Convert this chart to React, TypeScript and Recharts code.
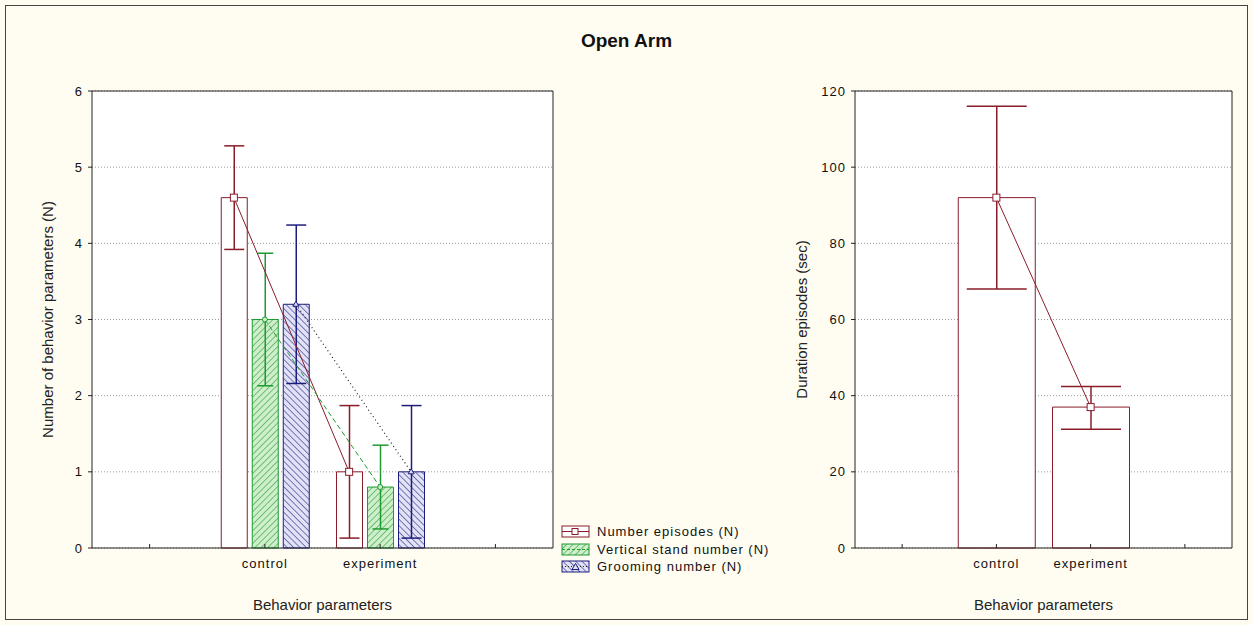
import { ComposedChart, Bar, Line, XAxis, YAxis, CartesianGrid, ErrorBar, Legend } from 'recharts';

const categories = ['', 'control', 'experiment', ' '];

const numberEpisodes = [null, 4.6, 1.0, null];
const numberEpisodesErr = [null, 0.68, 0.87, null];
const verticalStand = [null, 3.0, 0.8, null];
const verticalStandErr = [null, 0.87, 0.55, null];
const grooming = [null, 3.2, 1.0, null];
const groomingErr = [null, 1.04, 0.87, null];

const duration = [null, 92, 37, null];
const durationErr = [null, [24, 24], [5.8, 5.4], null];

const leftTicks = [0, 1, 2, 3, 4, 5, 6];
const rightTicks = [0, 20, 40, 60, 80, 100, 120];

const RED = '#8a1c2a';
const GREEN = '#1f9a2f';
const GREEN_BG = '#cfeecb';
const BLUE = '#1c1c7c';
const BLUE_BG = '#e2e2f6';
const CREAM = '#fffdf1';
const FONT = '"Liberation Sans", Arial, sans-serif';

const leftData = categories.map((name, i) => ({
  name,
  episodes: numberEpisodes[i],
  episodesErr: numberEpisodesErr[i],
  stand: verticalStand[i],
  standErr: verticalStandErr[i],
  grooming: grooming[i],
  groomingErr: groomingErr[i],
}));

const rightData = categories.map((name, i) => ({
  name,
  duration: duration[i],
  durationErr: durationErr[i],
}));

const tickStyle = { fontSize: 13, fill: '#111', letterSpacing: 1, fontFamily: FONT };
const titleStyle = { fontSize: 15, fill: '#222', fontFamily: FONT };

const squareDot = (color: string) => (p: any) => {
  if (p.value == null || p.cy == null) return <g key={`s${p.index}`} />;
  return (
    <rect key={`s${p.index}`} x={p.cx - 3.5} y={p.cy - 3.5} width={7} height={7} fill="#fff" stroke={color} />
  );
};

const circleDot = (color: string) => (p: any) => {
  if (p.value == null || p.cy == null) return <g key={`c${p.index}`} />;
  return <circle key={`c${p.index}`} cx={p.cx} cy={p.cy} r={2.5} fill={GREEN_BG} stroke={color} />;
};

const triangleDot = (color: string) => (p: any) => {
  if (p.value == null || p.cy == null) return <g key={`t${p.index}`} />;
  const { cx, cy } = p;
  return (
    <path key={`t${p.index}`} d={`M${cx - 3},${cy + 2} L${cx},${cy - 3} L${cx + 3},${cy + 2} Z`} fill={BLUE_BG} stroke={color} />
  );
};

const legendItems = [
  { label: 'Number episodes (N)', fill: '#fff', stroke: RED, marker: 'square', dash: undefined },
  { label: 'Vertical stand number (N)', fill: 'url(#hatchGreen)', stroke: GREEN, marker: 'circle', dash: '3 2' },
  { label: 'Grooming number (N)', fill: 'url(#hatchBlue)', stroke: BLUE, marker: 'triangle', dash: '1 2' },
];

function LegendBox() {
  return (
    <div style={{ fontFamily: FONT, fontSize: 13, letterSpacing: 1, color: '#111' }}>
      {legendItems.map((it) => (
        <div key={it.label} style={{ display: 'flex', alignItems: 'center', height: 17.5 }}>
          <svg width={30} height={13} style={{ marginRight: 6 }}>
            <rect x={1} y={1} width={27} height={11} fill={it.fill} stroke={it.stroke} />
            <line x1={1} x2={28} y1={6.5} y2={6.5} stroke={it.marker === 'triangle' ? '#222' : it.stroke} strokeDasharray={it.dash} />
            {it.marker === 'square' && <rect x={11} y={3.5} width={6} height={6} fill="#fff" stroke={it.stroke} />}
            {it.marker === 'triangle' && <path d="M11,9.5 L14.5,3.5 L18,9.5 Z" fill={BLUE_BG} stroke={it.stroke} />}
          </svg>
          <span>{it.label}</span>
        </div>
      ))}
    </div>
  );
}

export default function App() {
  return (
    <div style={{ position: 'fixed', left: 0, top: 0, width: 1253, height: 625, background: CREAM, overflow: 'hidden', fontFamily: FONT }}>
      <svg width={0} height={0} style={{ position: 'absolute' }}>
        <defs>
          <pattern id="hatchGreen" width={4.5} height={4.5} patternUnits="userSpaceOnUse" patternTransform="rotate(45)">
            <rect width={4.5} height={4.5} fill={GREEN_BG} />
            <line x1={0} y1={0} x2={0} y2={4.5} stroke={GREEN} strokeWidth={1.1} />
          </pattern>
          <pattern id="hatchBlue" width={4.5} height={4.5} patternUnits="userSpaceOnUse" patternTransform="rotate(-45)">
            <rect width={4.5} height={4.5} fill={BLUE_BG} />
            <line x1={0} y1={0} x2={0} y2={4.5} stroke={BLUE} strokeWidth={1.1} />
          </pattern>
        </defs>
      </svg>

      <div style={{ position: 'absolute', left: 5, top: 5, width: 1243, height: 615, border: '1px solid #444', boxSizing: 'border-box' }} />

      <div style={{ position: 'absolute', left: 0, width: 1253, top: 30, textAlign: 'center', fontSize: 19, fontWeight: 'bold', color: '#111' }}>
        Open Arm
      </div>

      <div style={{ position: 'absolute', left: 0, top: 0 }}>
        <ComposedChart width={600} height={625} data={leftData} margin={{ top: 90, right: 46, bottom: 15, left: 22 }} barSize={26} barGap={5}>
          <CartesianGrid vertical={false} fill="#fff" stroke="#9a9a9a" strokeDasharray="1 2" />
          <XAxis
            dataKey="name"
            height={62}
            interval={0}
            tickSize={-4}
            tickMargin={15}
            tick={tickStyle}
            axisLine={{ stroke: '#222' }}
            tickLine={{ stroke: '#222' }}
            label={{ value: 'Behavior parameters', position: 'insideBottom', offset: 0, style: titleStyle }}
          />
          <XAxis xAxisId="top" dataKey="name" orientation="top" height={1} interval={0} tick={false} tickSize={-4} axisLine={{ stroke: '#222' }} tickLine={{ stroke: '#222' }} />
          <XAxis xAxisId="redLine" dataKey="name" hide padding={{ left: -31, right: 31 }} />
          <XAxis xAxisId="blueLine" dataKey="name" hide padding={{ left: 31, right: -31 }} />
          <YAxis
            width={70}
            domain={[0, 6]}
            ticks={leftTicks}
            tickSize={4}
            tickMargin={5}
            tick={tickStyle}
            axisLine={{ stroke: '#222' }}
            tickLine={{ stroke: '#222' }}
            label={{ value: 'Number of behavior parameters (N)', angle: -90, position: 'insideLeft', offset: 26, style: { ...titleStyle, textAnchor: 'middle' } }}
          />
          <YAxis yAxisId="right" orientation="right" width={1} domain={[0, 6]} ticks={leftTicks} tick={false} tickSize={-4} axisLine={{ stroke: '#222' }} tickLine={{ stroke: '#222' }} />
          <Bar dataKey="episodes" fill="#fff" stroke={RED} isAnimationActive={false}>
            <ErrorBar dataKey="episodesErr" width={10} stroke={RED} direction="y" />
          </Bar>
          <Bar dataKey="stand" fill="url(#hatchGreen)" stroke={GREEN} isAnimationActive={false}>
            <ErrorBar dataKey="standErr" width={8} stroke={GREEN} direction="y" />
          </Bar>
          <Bar dataKey="grooming" fill="url(#hatchBlue)" stroke={BLUE} isAnimationActive={false}>
            <ErrorBar dataKey="groomingErr" width={10} stroke={BLUE} direction="y" />
          </Bar>
          <Line xAxisId="redLine" dataKey="episodes" stroke={RED} strokeWidth={1} dot={squareDot(RED)} activeDot={false} isAnimationActive={false} />
          <Line dataKey="stand" stroke={GREEN} strokeWidth={1} strokeDasharray="5 3" dot={circleDot(GREEN)} activeDot={false} isAnimationActive={false} />
          <Line xAxisId="blueLine" dataKey="grooming" stroke="#222" strokeWidth={1.2} strokeDasharray="1 3" dot={triangleDot(BLUE)} activeDot={false} isAnimationActive={false} />
          <Legend
            layout="vertical"
            align="center"
            verticalAlign="middle"
            content={() => <LegendBox />}
            wrapperStyle={{ left: 561, top: 523, width: 240 }}
          />
        </ComposedChart>
      </div>

      <div style={{ position: 'absolute', left: 760, top: 0 }}>
        <ComposedChart width={493} height={625} data={rightData} margin={{ top: 90, right: 20, bottom: 15, left: 25 }} barSize={77}>
          <CartesianGrid vertical={false} fill="#fff" stroke="#9a9a9a" strokeDasharray="1 2" />
          <XAxis
            dataKey="name"
            height={62}
            interval={0}
            tickSize={-4}
            tickMargin={15}
            tick={tickStyle}
            axisLine={{ stroke: '#222' }}
            tickLine={{ stroke: '#222' }}
            label={{ value: 'Behavior parameters', position: 'insideBottom', offset: 0, style: titleStyle }}
          />
          <XAxis xAxisId="top" dataKey="name" orientation="top" height={1} interval={0} tick={false} tickSize={-4} axisLine={{ stroke: '#222' }} tickLine={{ stroke: '#222' }} />
          <YAxis
            width={70}
            domain={[0, 120]}
            ticks={rightTicks}
            tickSize={4}
            tickMargin={5}
            tick={tickStyle}
            axisLine={{ stroke: '#222' }}
            tickLine={{ stroke: '#222' }}
            label={{ value: 'Duration episodes (sec)', angle: -90, position: 'insideLeft', offset: 17, style: { ...titleStyle, textAnchor: 'middle' } }}
          />
          <YAxis yAxisId="right" orientation="right" width={1} domain={[0, 120]} ticks={rightTicks} tick={false} tickSize={-4} axisLine={{ stroke: '#222' }} tickLine={{ stroke: '#222' }} />
          <Bar dataKey="duration" fill="#fff" stroke={RED} isAnimationActive={false}>
            <ErrorBar dataKey="durationErr" width={30} stroke={RED} direction="y" />
          </Bar>
          <Line dataKey="duration" stroke={RED} strokeWidth={1} dot={squareDot(RED)} activeDot={false} isAnimationActive={false} />
        </ComposedChart>
      </div>
    </div>
  );
}
